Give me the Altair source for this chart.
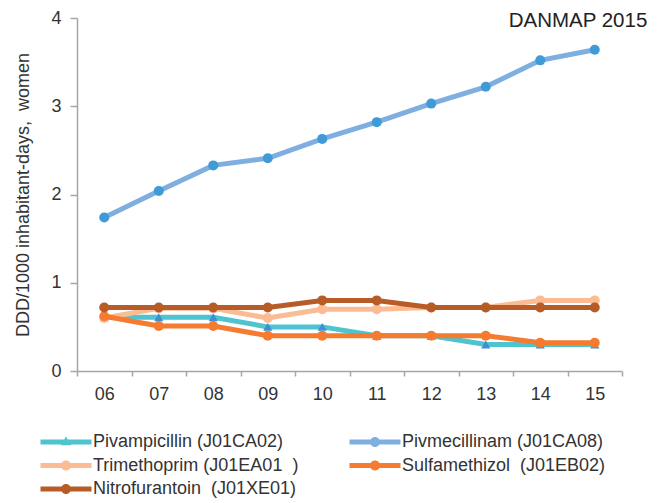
import altair as alt
import pandas as pd

years = ["06", "07", "08", "09", "10", "11", "12", "13", "14", "15"]
series_names = [
    "Pivampicillin (J01CA02)",
    "Pivmecillinam (J01CA08)",
    "Trimethoprim (J01EA01\u00a0 )",
    "Sulfamethizol\u00a0 (J01EB02)",
    "Nitrofurantoin\u00a0 (J01XE01)",
]
pivampicillin = [0.61, 0.61, 0.61, 0.50, 0.50, 0.40, 0.40, 0.30, 0.30, 0.30]
pivmecillinam = [1.74, 2.04, 2.33, 2.41, 2.63, 2.82, 3.03, 3.22, 3.52, 3.64]
trimethoprim = [0.60, 0.71, 0.71, 0.60, 0.70, 0.70, 0.72, 0.72, 0.80, 0.80]
sulfamethizol = [0.62, 0.51, 0.51, 0.40, 0.40, 0.40, 0.40, 0.40, 0.32, 0.32]
nitrofurantoin = [0.72, 0.72, 0.72, 0.72, 0.80, 0.80, 0.72, 0.72, 0.72, 0.72]
all_values = [pivampicillin, pivmecillinam, trimethoprim, sulfamethizol, nitrofurantoin]

line_colors = ["#4DC4CF", "#7EAFE0", "#FBBB93", "#F47B30", "#B85C27"]
marker_colors = ["#3E8FD4", "#3F9BD7", "#FBBB93", "#F47B30", "#B85C27"]
marker_shapes = ["triangle-up", "circle", "circle", "circle", "circle"]

LINE = "M-2.55,-0.25H2.55V0.25H-2.55Z"
CIRC = "M0.5,0A0.5,0.5 0 1,1 -0.5,0A0.5,0.5 0 1,1 0.5,0Z"
TRI = "M0,-0.55L0.52,0.32L-0.52,0.32Z"
legend_paths = [LINE + TRI, LINE + CIRC, LINE + CIRC, LINE + CIRC, LINE + CIRC]

rows = []
for name, vals in zip(series_names, all_values):
    for yr, v in zip(years, vals):
        rows.append({"year": yr, "series": name, "value": v})
df = pd.DataFrame(rows)

FONT = "Liberation Sans"
GRAY = "#A6A6A6"
TXT = "#333333"

x_enc = alt.X(
    "year:N",
    sort=years,
    bandPosition=0.5,
    scale=alt.Scale(type="band", domain=years, paddingInner=0, paddingOuter=0),
    axis=alt.Axis(
        title=None, labelAngle=0, tickBand="extent", domainColor=GRAY, domainWidth=1.5,
        tickColor=GRAY, tickWidth=1.5, tickSize=5, labelFont=FONT, labelFontSize=18,
        labelColor=TXT, labelPadding=9, grid=False,
    ),
)
y_enc = alt.Y(
    "value:Q",
    scale=alt.Scale(domain=[0, 4], nice=False),
    axis=alt.Axis(
        title="DDD/1000 inhabitant-days,\u00a0 women", values=[0, 1, 2, 3, 4], format="d",
        domainColor=GRAY, domainWidth=1.5, tickColor=GRAY, tickWidth=1.5, tickSize=7,
        labelFont=FONT, labelFontSize=18, labelColor=TXT, labelPadding=9,
        titleFont=FONT, titleFontSize=18, titleFontWeight="normal", titleColor=TXT,
        titlePadding=18, grid=False,
    ),
)

base = alt.Chart(df)
layers = []
for name, lc, mc, shp in zip(series_names, line_colors, marker_colors, marker_shapes):
    sub = base.transform_filter(alt.datum.series == name)
    layers.append(sub.mark_line(strokeWidth=5).encode(x=x_enc, y=y_enc, stroke=alt.value(lc)))
    layers.append(
        sub.mark_point(filled=True, opacity=1, size=100 if shp == "circle" else 85, shape=shp)
        .encode(x=x_enc, y=y_enc, fill=alt.value(mc))
    )

leg = alt.Legend(
    title=None, orient="none", legendX=-21, legendY=414, columns=2, columnPadding=50,
    direction="horizontal",
    rowPadding=4.5, symbolSize=400, symbolStrokeWidth=0, symbolOpacity=1,
    labelFont=FONT, labelFontSize=18, labelColor=TXT, labelOffset=17, labelLimit=400,
    padding=0,
)
legend_layer = base.mark_point(filled=True, opacity=0, size=400).encode(
    x=x_enc,
    y=y_enc,
    color=alt.Color("series:N", scale=alt.Scale(domain=series_names, range=line_colors), legend=leg),
    shape=alt.Shape("series:N", scale=alt.Scale(domain=series_names, range=legend_paths), legend=leg),
)

label = alt.Chart(pd.DataFrame({"t": ["DANMAP 2015"]})).mark_text(
    font=FONT, fontSize=20.5, color="#222222", align="center", baseline="alphabetic"
).encode(text="t:N", x=alt.value(501), y=alt.value(8.5))

chart = (
    alt.layer(*layers, legend_layer, label)
    .properties(
        width=545, height=353,
        autosize=alt.AutoSizeParams(type="none"),
        padding={"left": 69, "top": 10, "right": 28, "bottom": 131},
    )
    .configure_view(stroke=None)
)

chart.save("out.html", embed_options={"renderer": "svg", "actions": False})
